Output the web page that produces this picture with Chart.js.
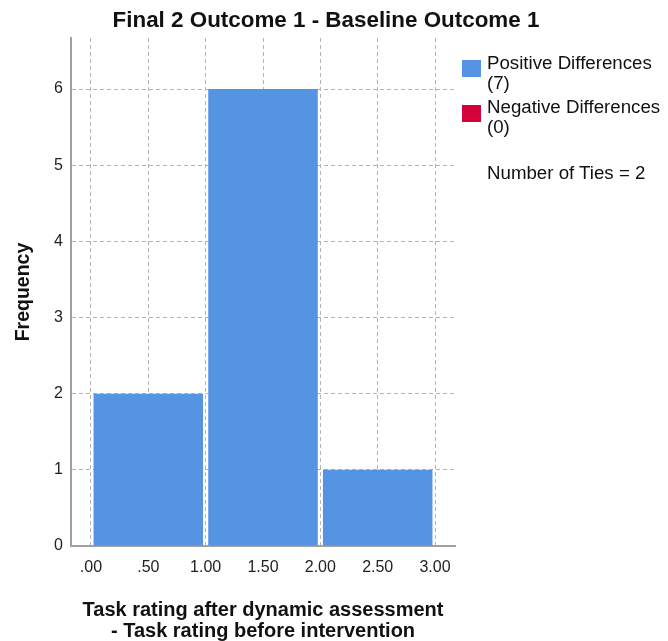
<!DOCTYPE html>
<html>
<head>
<meta charset="utf-8">
<script src="https://cdn.jsdelivr.net/npm/chart.js@4.4.1/dist/chart.umd.min.js"></script>
<style>
  html, body { margin: 0; padding: 0; background: #fff; }
  #wrap { position: relative; width: 668px; height: 641px; font-family: "Liberation Sans", Arial, sans-serif; color: #111; }
  #grafica { position: absolute; left: 0; top: 0; }
  .titulo { position: absolute; left: 0; width: 652px; top: 9px; text-align: center; font-weight: bold; font-size: 22.4px; line-height: 22px; }
  .leyenda { position: absolute; left: 487px; font-size: 18.7px; line-height: 20px; white-space: nowrap; }
  .caja { position: absolute; left: 462px; width: 19px; height: 17px; }
</style>
</head>
<body>
<div id="wrap">
  <canvas id="grafica" width="668" height="641"></canvas>
  <div class="titulo" id="titulo"></div>
  <div class="caja" id="cajaPos"></div>
  <div class="leyenda" id="leyPos" style="top:53px"></div>
  <div class="caja" id="cajaNeg"></div>
  <div class="leyenda" id="leyNeg" style="top:97px"></div>
  <div class="leyenda" id="empates" style="top:163px"></div>
</div>
<script>
const centros = [0.5, 1.5, 2.5];          // centro de cada intervalo
const frecuencias = [2, 6, 1];
const ticksX = [0, 0.5, 1, 1.5, 2, 2.5, 3];
const ticksY = [0, 1, 2, 3, 4, 5, 6];
const positivas = 7;
const negativas = 0;
const empates = 2;

const AZUL = '#5594e3';
const ROJO = '#d6003a';

document.getElementById('titulo').textContent = 'Final 2 Outcome 1 - Baseline Outcome 1';
document.getElementById('leyPos').innerHTML = 'Positive Differences<br>(' + positivas + ')';
document.getElementById('leyNeg').innerHTML = 'Negative Differences<br>(' + negativas + ')';
document.getElementById('empates').textContent = 'Number of Ties = ' + empates;
const cajaPos = document.getElementById('cajaPos');
cajaPos.style.top = '60px'; cajaPos.style.background = AZUL;
const cajaNeg = document.getElementById('cajaNeg');
cajaNeg.style.top = '105px'; cajaNeg.style.background = ROJO;

const fuente = '"Liberation Sans", Arial, sans-serif';
const gris = '#b4b4b4';

const ctx = document.getElementById('grafica').getContext('2d');
new Chart(ctx, {
    type: 'bar',
    data: {
        datasets: [{
            data: centros.map((c, i) => ({ x: c, y: frecuencias[i] })),
            backgroundColor: AZUL,
            borderWidth: 0,
            // el ancho minimo lo marcan los ticks (0.5), por eso > 1
            barPercentage: 1.91,
            categoryPercentage: 1
        }]
    },
    options: {
        responsive: false,
        animation: false,
        layout: { padding: { top: 38, right: 213, left: 0, bottom: 0 } },
        plugins: { legend: { display: false }, tooltip: { enabled: false }, title: { display: false } },
        scales: {
            x: {
                type: 'linear',
                offset: false,
                min: -0.174,
                max: 3.174,
                afterBuildTicks: s => { s.ticks = ticksX.map(v => ({ value: v })); },
                afterFit: s => { s.height = 95; },
                ticks: {
                    padding: 12,
                    color: '#222',
                    font: { family: fuente, size: 16 },
                    callback: v => v.toFixed(2).replace(/^0/, '')
                },
                grid: { color: gris, offset: false, drawTicks: false },
                border: { display: true, color: '#a0a0a0', width: 2, dash: [4, 3] },
                title: {
                    display: true,
                    text: ['Task rating after dynamic assessment', '- Task rating before intervention'],
                    color: '#111',
                    font: { family: fuente, size: 20, weight: 'bold', lineHeight: 1.05 },
                    padding: { top: 0, bottom: -1 }
                }
            },
            y: {
                min: 0,
                max: 6.67,
                afterBuildTicks: s => { s.ticks = ticksY.map(v => ({ value: v })); },
                afterFit: s => { s.width = 71; },
                ticks: { padding: 8, color: '#222', font: { family: fuente, size: 16 } },
                grid: {
                    color: ctx => ctx.tick && ctx.tick.value === 0 ? 'rgba(0,0,0,0)' : gris,
                    drawTicks: false
                },
                border: { display: true, color: '#a0a0a0', width: 2, dash: [4, 3] },
                title: {
                    display: true,
                    text: 'Frequency',
                    color: '#111',
                    font: { family: fuente, size: 19.5, weight: 'bold' },
                    padding: { top: 12, bottom: 0 }
                }
            }
        }
    }
});
</script>
</body>
</html>
